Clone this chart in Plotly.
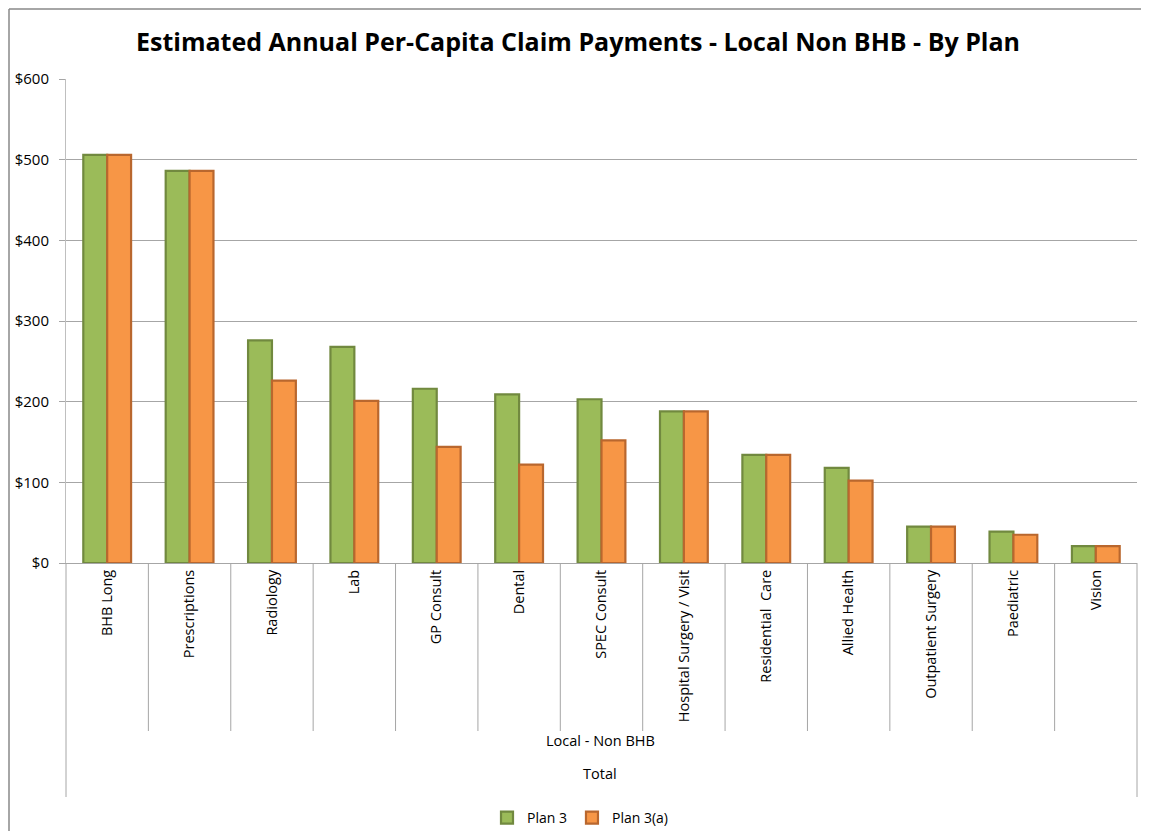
import plotly.graph_objects as go

categories = ["BHB Long", "Prescriptions", "Radiology", "Lab", "GP Consult", "Dental",
              "SPEC Consult", "Hospital Surgery / Visit", "Residential  Care",
              "Allied Health", "Outpatient Surgery", "Paediatric", "Vision"]
plan3 = [506, 486, 276, 268, 216, 209, 203, 188, 134, 118, 45, 39, 21]
plan3a = [506, 486, 226, 201, 144, 122, 152, 188, 134, 102, 45, 35, 21]
y_ticks = [0, 100, 200, 300, 400, 500, 600]
y_tick_labels = ["$" + str(v) for v in y_ticks]
group_label = "Local - Non BHB"
total_label = "Total"

FONT = "Open Sans"
OFF = 8  # default body margin of the html page
fig = go.Figure()
fig.add_trace(go.Bar(name="Plan 3", x=categories, y=plan3,
                     marker=dict(color="#9BBB59", line=dict(color="#71893F", width=2.2))))
fig.add_trace(go.Bar(name="Plan 3(a)", x=categories, y=plan3a,
                     marker=dict(color="#F79646", line=dict(color="#B9672E", width=2.2))))

# keep the figure inside the window (body margin on both sides) to avoid scrollbars
W, H = 1149 - 2 * OFF, 839 - 2 * OFF
L = 66 - OFF
T = 79 - OFF
R = W - (1137 - OFF)
B = H - (563 - OFF)
pw = W - L - R
ph = H - T - B

def py(px):
    # reference page pixel y -> paper coordinate
    return (563 - px) / ph

def pxx(px):
    return (px - 66) / pw

n = len(categories)
shapes = []
for i in range(n + 1):
    xp = i / n
    bottom = 797 if i in (0, n) else 731
    shapes.append(dict(type="line", xref="paper", yref="paper", x0=xp, x1=xp,
                       y0=0, y1=py(bottom), line=dict(color="#A6A6A6", width=1)))
# outer chart border (top and left edges visible), kept inside the figure
fig_right = W + OFF
fig_bottom = H + OFF
shapes.append(dict(type="line", xref="paper", yref="paper", x0=pxx(9), x1=pxx(fig_right),
                   y0=py(9), y1=py(9), line=dict(color="#898989", width=1.5)))
shapes.append(dict(type="line", xref="paper", yref="paper", x0=pxx(9), x1=pxx(9),
                   y0=py(fig_bottom), y1=py(9), line=dict(color="#898989", width=1.5)))

fig.update_layout(
    width=W, height=H,
    margin=dict(l=L, r=R, t=T, b=B, autoexpand=False),
    paper_bgcolor="white", plot_bgcolor="white",
    title=dict(text="<b>Estimated Annual Per-Capita Claim Payments - Local Non BHB - By Plan</b>",
               x=pxx(578), xref="paper", xanchor="center", y=1 - (42 - OFF) / H, yanchor="middle",
               font=dict(family=FONT, size=25, color="black")),
    barmode="group", bargap=0.42, bargroupgap=0,
    font=dict(family=FONT, size=14, color="black"),
    xaxis=dict(tickangle=-90, showline=True, linecolor="#A6A6A6", linewidth=1,
               ticks="", showgrid=False, tickfont=dict(family=FONT, size=14.5),
               range=[-0.5, n - 0.5]),
    yaxis=dict(range=[0, 600], tickvals=y_ticks, ticktext=y_tick_labels, showgrid=True,
               gridcolor="#A6A6A6", gridwidth=1, showline=True, linecolor="#BFBFBF",
               ticks="outside", ticklen=6, tickcolor="#A6A6A6", zeroline=False,
               ticklabelstandoff=7, tickfont=dict(family=FONT, size=15)),
    legend=dict(orientation="h", x=pxx(580), xanchor="center", y=py(818), yanchor="middle",
                font=dict(family=FONT, size=14), itemwidth=30, traceorder="normal"),
    shapes=shapes,
    annotations=[
        dict(text=group_label, xref="paper", yref="paper", x=pxx(600), y=py(752),
             showarrow=False, font=dict(family=FONT, size=14.5)),
        dict(text=total_label, xref="paper", yref="paper", x=pxx(600), y=py(785),
             showarrow=False, font=dict(family=FONT, size=14.5)),
    ],
)
fig.write_html("out.html")
